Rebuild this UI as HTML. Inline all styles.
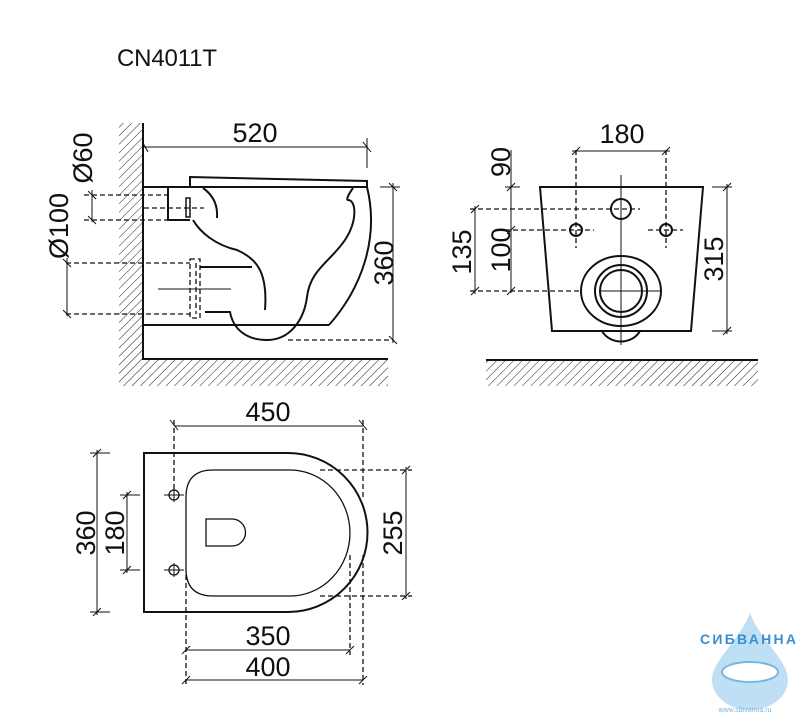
<!DOCTYPE html>
<html><head><meta charset="utf-8"><style>
html,body{margin:0;padding:0;background:#fff;}
svg{display:block}
text{font-family:"Liberation Sans",sans-serif;fill:#111}
</style></head><body>
<svg width="800" height="717" viewBox="0 0 800 717" xmlns="http://www.w3.org/2000/svg">
<defs>
<pattern id="h" patternUnits="userSpaceOnUse" width="6" height="6" patternTransform="rotate(45)">
<line x1="0" y1="0" x2="0" y2="6" stroke="#222" stroke-width="1"/>
</pattern>
</defs>
<text x="117" y="66" font-size="24" textLength="100" lengthAdjust="spacing">CN4011T</text>

<!-- SIDE VIEW -->
<rect x="119" y="123" width="24" height="236" fill="url(#h)"/>
<rect x="119" y="359" width="269" height="27" fill="url(#h)"/>
<g stroke="#111" fill="none" stroke-width="2">
<polyline points="143,123 143,359 388,359"/>
<polyline points="143,187 367,187 367,181 190,177 190,187"/>
<line x1="143" y1="325" x2="329" y2="325"/>
<path d="M367,187 C380,240 360,290 329,325"/>
<path d="M353,188 C348,195 346,200 348,200 C356,200 358,220 345,240 C330,262 310,270 307,297 C304,320 290,340 267,340 C245,340 233,328 230,312 L205,312"/>
<path d="M193,220 C200,232 215,245 237,250 C255,258 268,270 265,310"/>
<path d="M203,188 C213,195 218,205 217,218"/>
<line x1="200" y1="267" x2="252" y2="267"/>
<polyline points="168,187 168,220 190,220"/>
<rect x="186" y="198" width="4" height="19" stroke-width="1.5"/>
</g>
<g stroke="#111" fill="none" stroke-width="1.3" stroke-dasharray="5,3">
<line x1="84" y1="195" x2="168" y2="195"/>
<line x1="144" y1="208" x2="204" y2="208"/>
<line x1="84" y1="220" x2="168" y2="220"/>
<line x1="66" y1="263" x2="190" y2="263"/>
<line x1="66" y1="314" x2="190" y2="314"/>
<rect x="190" y="259" width="10" height="59"/>
<line x1="196" y1="263" x2="196" y2="314"/>
<line x1="288" y1="340" x2="393" y2="340"/>
</g>
<g stroke="#111" fill="none" stroke-width="1">
<line x1="158" y1="289" x2="231" y2="289"/>
<line x1="143" y1="147" x2="367" y2="147"/>
<line x1="367" y1="138" x2="367" y2="168"/>
<line x1="143" y1="143" x2="148" y2="152"/><line x1="363" y1="142" x2="371" y2="152"/>
<line x1="92" y1="190" x2="92" y2="222"/>
<line x1="88" y1="191" x2="96" y2="199"/><line x1="88" y1="216" x2="96" y2="224"/>
<line x1="67" y1="258" x2="67" y2="316"/>
<line x1="63" y1="259" x2="71" y2="267"/><line x1="63" y1="310" x2="71" y2="318"/>
<line x1="393" y1="183" x2="393" y2="343"/>
<line x1="380" y1="187" x2="400" y2="187"/>
<line x1="389" y1="183" x2="397" y2="191"/><line x1="389" y1="336" x2="397" y2="344"/>
</g>
<text x="255" y="142" font-size="27" text-anchor="middle">520</text>
<text transform="translate(92,158) rotate(-90)" font-size="27" text-anchor="middle">Ø60</text>
<text transform="translate(68,226) rotate(-90)" font-size="27" text-anchor="middle">Ø100</text>
<text transform="translate(393,263) rotate(-90)" font-size="27" text-anchor="middle">360</text>

<!-- FRONT VIEW -->
<rect x="486" y="360" width="272" height="26" fill="url(#h)"/>
<line x1="486" y1="360" x2="758" y2="360" stroke="#111" stroke-width="2"/>
<g stroke="#111" fill="none" stroke-width="2">
<polygon points="540,187 703,187 691,331 552,331"/>
<path d="M602,331 C610,345 632,345 640,331"/>
<circle cx="621" cy="209" r="10"/>
<circle cx="576" cy="230" r="6"/>
<circle cx="666" cy="230" r="6"/>
<ellipse cx="621" cy="291" rx="40" ry="35"/>
<circle cx="621" cy="291" r="26"/>
<circle cx="621" cy="291" r="21"/>
</g>
<g stroke="#111" fill="none" stroke-width="1.3" stroke-dasharray="5,3">
<line x1="576" y1="150" x2="576" y2="248"/>
<line x1="666" y1="150" x2="666" y2="248"/>
<line x1="470" y1="209" x2="640" y2="209"/>
<line x1="505" y1="230" x2="594" y2="230"/>
<line x1="648" y1="230" x2="683" y2="230"/>
<line x1="470" y1="291" x2="580" y2="291"/>
</g>
<g stroke="#111" fill="none" stroke-width="1">
<line x1="621" y1="175" x2="621" y2="345"/>
<line x1="600" y1="291" x2="660" y2="291"/>
<line x1="572" y1="151" x2="670" y2="151"/>
<line x1="572" y1="155" x2="580" y2="147"/><line x1="662" y1="155" x2="670" y2="147"/>
<line x1="511" y1="150" x2="511" y2="293"/>
<line x1="505" y1="187" x2="520" y2="187"/>
<line x1="507" y1="191" x2="515" y2="183"/><line x1="507" y1="234" x2="515" y2="226"/><line x1="507" y1="295" x2="515" y2="287"/>
<line x1="475" y1="206" x2="475" y2="294"/>
<line x1="471" y1="213" x2="479" y2="205"/><line x1="471" y1="295" x2="479" y2="287"/>
<line x1="727" y1="184" x2="727" y2="334"/>
<line x1="712" y1="187" x2="732" y2="187"/><line x1="712" y1="331" x2="732" y2="331"/>
<line x1="723" y1="191" x2="731" y2="183"/><line x1="723" y1="335" x2="731" y2="327"/>
</g>
<text x="622" y="143" font-size="27" text-anchor="middle">180</text>
<text transform="translate(510,162) rotate(-90)" font-size="27" text-anchor="middle">90</text>
<text transform="translate(510,250) rotate(-90)" font-size="27" text-anchor="middle">100</text>
<text transform="translate(471,252) rotate(-90)" font-size="27" text-anchor="middle">135</text>
<text transform="translate(723,259) rotate(-90)" font-size="27" text-anchor="middle">315</text>

<!-- TOP VIEW -->
<g stroke="#111" fill="none" stroke-width="2">
<path d="M144,453 L288,453 A79.5,79.5 0 0 1 288,612 L144,612 Z"/>
</g>
<g stroke="#111" fill="none" stroke-width="1.3">
<path d="M213,470 L290,470 A60,63 0 0 1 290,596 L213,596 Q186,596 186,569 L186,497 Q186,470 213,470 Z"/>
<path d="M206,519 L232,519 A13.5,13.5 0 0 1 232,546 L206,546 Z"/>
<circle cx="174" cy="495" r="5"/>
<circle cx="174" cy="570" r="5"/>
</g>
<g stroke="#111" fill="none" stroke-width="1">
<line x1="164" y1="495" x2="184" y2="495"/><line x1="164" y1="570" x2="184" y2="570"/>
<line x1="174" y1="488" x2="174" y2="502"/><line x1="174" y1="563" x2="174" y2="577"/>
<line x1="174" y1="426" x2="363" y2="426"/>
<line x1="170" y1="420" x2="178" y2="430"/><line x1="359" y1="420" x2="367" y2="430"/>
<line x1="97" y1="450" x2="97" y2="615"/>
<line x1="93" y1="457" x2="101" y2="449"/><line x1="93" y1="616" x2="101" y2="608"/>
<line x1="90" y1="453" x2="110" y2="453"/><line x1="90" y1="612" x2="110" y2="612"/>
<line x1="127" y1="492" x2="127" y2="573"/>
<line x1="120" y1="495" x2="140" y2="495"/><line x1="120" y1="570" x2="140" y2="570"/>
<line x1="123" y1="499" x2="131" y2="491"/><line x1="123" y1="574" x2="131" y2="566"/>
<line x1="406" y1="467" x2="406" y2="599"/>
<line x1="402" y1="474" x2="410" y2="466"/><line x1="402" y1="600" x2="410" y2="592"/>
<line x1="186" y1="650" x2="350" y2="650"/>
<line x1="182" y1="654" x2="190" y2="646"/><line x1="346" y1="654" x2="354" y2="646"/>
<line x1="186" y1="680" x2="363" y2="680"/>
<line x1="182" y1="684" x2="190" y2="676"/><line x1="359" y1="684" x2="367" y2="676"/>
</g>
<g stroke="#111" fill="none" stroke-width="1.3" stroke-dasharray="5,3">
<line x1="174" y1="420" x2="174" y2="490"/>
<line x1="363" y1="420" x2="363" y2="500"/>
<line x1="363" y1="555" x2="363" y2="685"/>
<line x1="350" y1="555" x2="350" y2="655"/>
<line x1="186" y1="575" x2="186" y2="685"/>
<line x1="320" y1="470" x2="412" y2="470"/>
<line x1="320" y1="596" x2="412" y2="596"/>
</g>
<text x="268" y="421" font-size="27" text-anchor="middle">450</text>
<text transform="translate(95,533) rotate(-90)" font-size="27" text-anchor="middle">360</text>
<text transform="translate(124,533) rotate(-90)" font-size="27" text-anchor="middle">180</text>
<text transform="translate(402,533) rotate(-90)" font-size="27" text-anchor="middle">255</text>
<text x="268" y="645" font-size="27" text-anchor="middle">350</text>
<text x="268" y="676" font-size="27" text-anchor="middle">400</text>

<!-- LOGO -->
<path d="M750,613 C740,640 712,660 712,680 A38,30 0 0 0 788,680 C788,660 760,640 750,613 Z" fill="#bfe0f4"/>
<ellipse cx="750" cy="672" rx="28" ry="10" fill="#fff" stroke="#7bb6df" stroke-width="2"/>
<text x="748" y="644" font-size="14" font-weight="bold" text-anchor="middle" style="fill:#3a8fd0" textLength="96">СИБВАННА</text>
<text x="745" y="712" font-size="7" text-anchor="middle" style="fill:#7bb6df">www.sibvanna.ru</text>
</svg>
</body></html>
